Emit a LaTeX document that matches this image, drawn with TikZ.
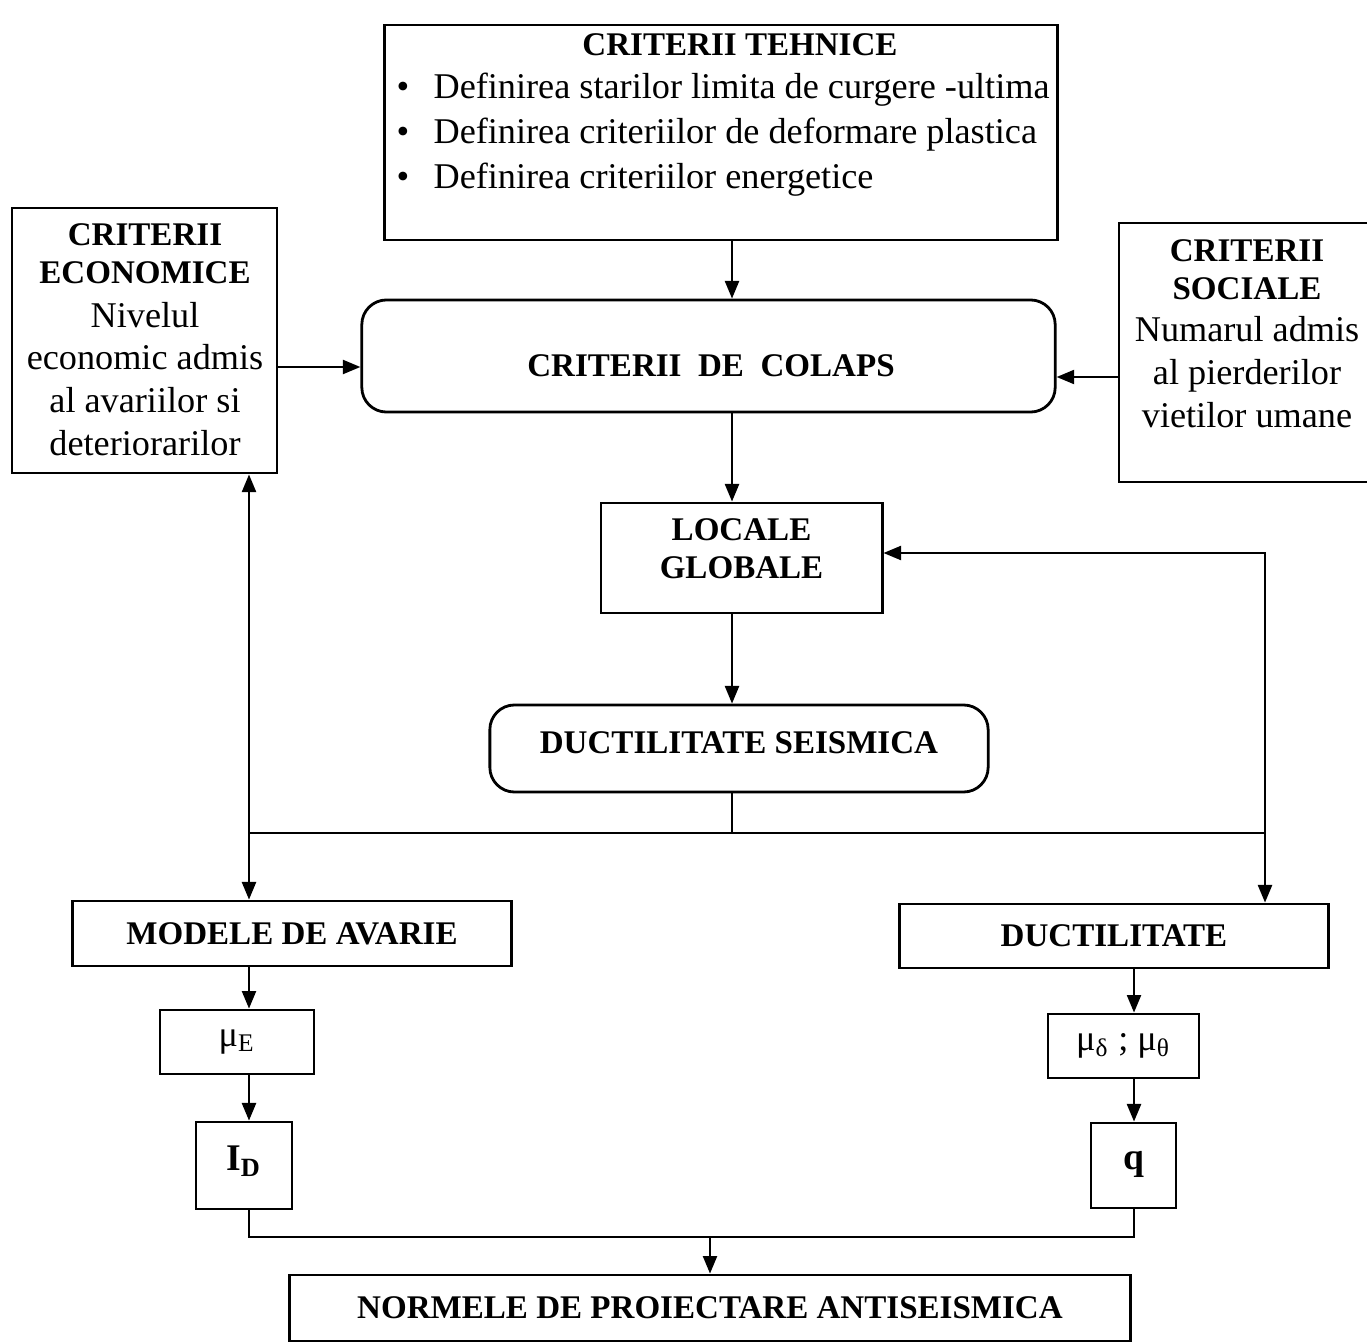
\documentclass[tikz,border=0pt]{standalone}
\usepackage{fontspec}
\setmainfont{Liberation Serif}
\usepackage{tikz}
\usetikzlibrary{arrows.meta}

\tikzset{
  caja/.style={draw, line width=0.8pt, inner sep=0pt},
  redonda/.style={caja, rounded corners=7pt},
  titulo/.style={font=\fontsize{9.4}{10.8}\selectfont\bfseries},
  texto/.style={font=\fontsize{10.3}{12.2}\selectfont},
  linea/.style={line width=0.6pt},
  flecha/.style={linea, -{Triangle[length=5pt,width=4pt]}},
  flechas/.style={linea, {Triangle[length=5pt,width=4pt]}-{Triangle[length=5pt,width=4pt]}}
}

\begin{document}
\begin{tikzpicture}[x=0.01cm, y=-0.01cm]

\useasboundingbox (0,0) rectangle (1367,1343);

% Criterios de arriba y de los lados
\node[caja, minimum width=6.72cm, minimum height=2.15cm] (tehnice) at (721,132.5) {};
\node[titulo] (tTehnice) at (740,45) {CRITERII TEHNICE};
\node[texto, align=left, anchor=west, inner sep=0pt, font=\fontsize{10.3}{12.8}\selectfont] (lista) at (396,135)
  {\makebox[10.5pt][l]{\textbullet}Definirea starilor limita de curgere -ultima\\
   \makebox[10.5pt][l]{\textbullet}Definirea criteriilor de deformare plastica\\
   \makebox[10.5pt][l]{\textbullet}Definirea criteriilor energetice};

\node[caja, minimum width=2.65cm, minimum height=2.65cm] (economice) at (144.5,340.5) {};
\node[titulo, align=center] (tEconomice) at (145,254) {CRITERII\\ECONOMICE};
\node[texto, align=center] (xEconomice) at (145,379) {Nivelul\\economic admis\\al avariilor si\\deteriorarilor};

\node[caja, minimum width=2.61cm, minimum height=2.59cm] (sociale) at (1249.5,352.5) {};
\node[titulo, align=center] (tSociale) at (1247,269.5) {CRITERII\\SOCIALE};
\node[texto, align=center] (xSociale) at (1247,372) {Numarul admis\\al pierderilor\\vietilor umane};

% Cajas centrales
\node[redonda, minimum width=6.93cm, minimum height=1.12cm] (colaps) at (708.5,356) {};
\node[titulo] (tColaps) at (711,366) {CRITERII\ \ DE\ \ COLAPS};
\node[caja, minimum width=2.81cm, minimum height=1.10cm] (locale) at (741.5,558) {};
\node[titulo, align=center] (tLocale) at (741.5,549) {LOCALE\\GLOBALE};
\node[redonda, minimum width=4.98cm, minimum height=0.87cm] (seismica) at (739,748.5) {};
\node[titulo] (tSeismica) at (739,743) {DUCTILITATE SEISMICA};

% Ramas de abajo
\node[caja, titulo, minimum width=4.38cm, minimum height=0.65cm] (modele) at (292,933.5) {MODELE DE AVARIE};
\node[caja, titulo, minimum width=4.28cm, minimum height=0.64cm] (ductil) at (1114,936) {DUCTILITATE};
\node[caja, texto, minimum width=1.54cm, minimum height=0.64cm] (muE) at (237,1042) {μ\textsubscript{E}};
\node[caja, texto, minimum width=1.51cm, minimum height=0.64cm] (muD) at (1123.5,1046) {μ\textsubscript{δ} ; μ\textsubscript{θ}};
\node[caja, font=\fontsize{10.7}{12}\selectfont\bfseries, minimum width=0.96cm, minimum height=0.87cm] (ID) at (244,1165.5) {\raisebox{4pt}{I\textsubscript{D}}};
\node[caja, font=\fontsize{10.7}{12}\selectfont\bfseries, minimum width=0.85cm, minimum height=0.85cm] (q) at (1133.5,1165.5) {\raisebox{3pt}{q}};
\node[caja, titulo, minimum width=8.40cm, minimum height=0.66cm] (normele) at (710,1308) {NORMELE DE PROIECTARE ANTISEISMICA};

% Ejes de las lineas
\coordinate (ejeC) at (732,0);
\coordinate (ejeI) at (249,0);
\coordinate (ejeD) at (1134,0);
\coordinate (ejeR) at (1265,0);
\coordinate (nivE) at (0,367);
\coordinate (nivS) at (0,377);
\coordinate (nivL) at (0,553);
\coordinate (bus) at (0,833);
\coordinate (base) at (0,1237);

% Flechas
\draw[flecha] (tehnice.south -| ejeC) -- (colaps.north -| ejeC);
\draw[flecha] (economice.east |- nivE) -- (colaps.west |- nivE);
\draw[flecha] (sociale.west |- nivS) -- (colaps.east |- nivS);
\draw[flecha] (colaps.south -| ejeC) -- (locale.north -| ejeC);
\draw[flecha] (locale.south -| ejeC) -- (seismica.north -| ejeC);

\draw[linea] (seismica.south -| ejeC) -- (ejeC |- bus);
\draw[linea] (ejeI |- bus) -- (ejeR |- bus);
\draw[flechas] (economice.south -| ejeI) -- (modele.north -| ejeI);
\draw[flechas] (locale.east |- nivL) -| (ductil.north -| ejeR);

\draw[flecha] (modele.south -| ejeI) -- (muE.north -| ejeI);
\draw[flecha] (muE.south -| ejeI) -- (ID.north -| ejeI);
\draw[flecha] (ductil.south -| ejeD) -- (muD.north -| ejeD);
\draw[flecha] (muD.south -| ejeD) -- (q.north -| ejeD);

\draw[linea] (ID.south -| ejeI) -- (ejeI |- base) -- (ejeD |- base) -- (q.south -| ejeD);
\draw[flecha] (normele.north |- base) -- (normele.north);

\end{tikzpicture}
\end{document}
